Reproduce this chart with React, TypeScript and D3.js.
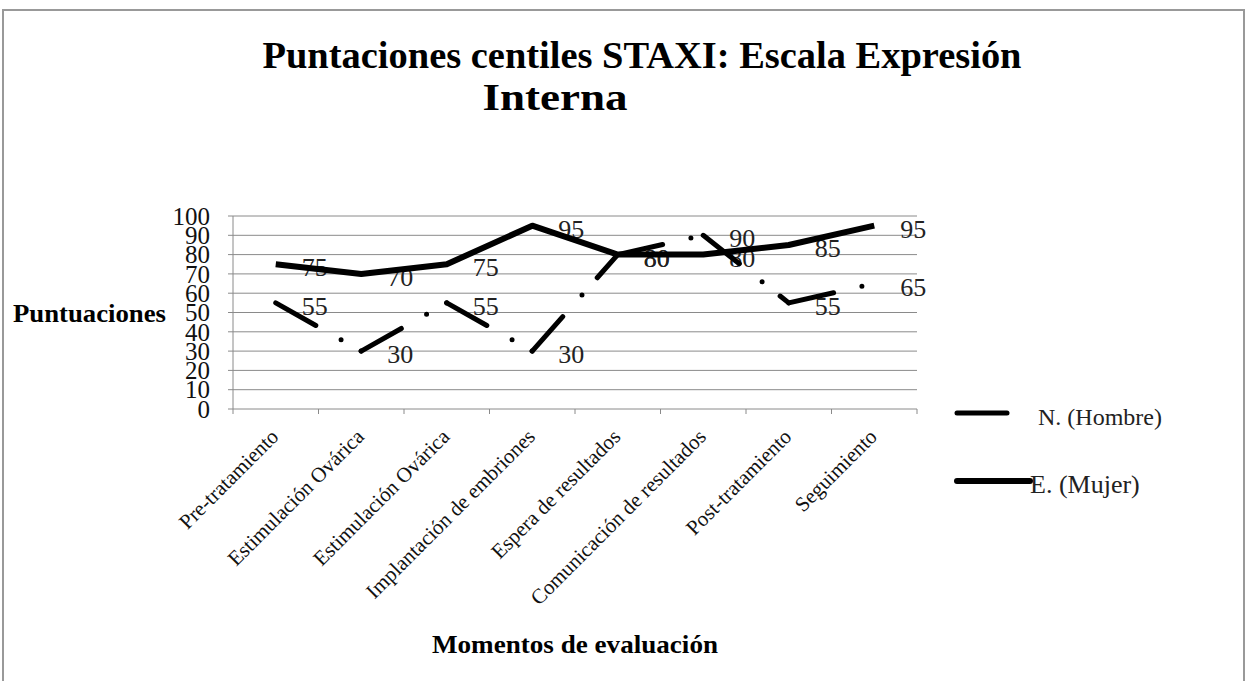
import React from "react";
import * as d3 from "d3";

const categories = [
  "Pre-tratamiento",
  "Estimulación Ovárica",
  "Estimulación Ovárica",
  "Implantación de embriones",
  "Espera de resultados",
  "Comunicación de resultados",
  "Post-tratamiento",
  "Seguimiento",
];
const hombre = [55, 30, 55, 30, 80, 90, 55, 65];
const mujer = [75, 70, 75, 95, 80, 80, 85, 95];
const yTicks = [0, 10, 20, 30, 40, 50, 60, 70, 80, 90, 100];
const titleLine1 = "Puntaciones centiles STAXI: Escala Expresión";
const titleLine2 = "Interna";
const yTitle = "Puntuaciones";
const xTitle = "Momentos de evaluación";
const legendHombre = "N. (Hombre)";
const legendMujer = "E. (Mujer)";

const FONT = "'Liberation Serif', 'Times New Roman', serif";
const GRID = "#8a8a8a";

export default function App() {
  const x = d3
    .scaleBand<number>()
    .domain(categories.map((_, i) => i))
    .range([233, 917]);
  const y = d3.scaleLinear().domain([0, 100]).range([409, 216]);
  const bw = x.bandwidth();
  const cx = (i: number) => (x(i) as number) + bw / 2;

  const line = d3
    .line<number>()
    .x((_, i) => cx(i))
    .y((d) => y(d));

  const boundaries = categories.map((_, i) => x(i) as number).concat([917]);

  const segs = hombre.slice(0, -1).map((v, i) => [
    [cx(i), y(v)],
    [cx(i + 1), y(hombre[i + 1])],
  ]);

  return (
    <svg
      width={1250}
      height={681}
      style={{ position: "absolute", left: 0, top: 0, background: "#fff", fontFamily: FONT }}
    >
      <rect x={3} y={10} width={1241} height={700} fill="#fff" stroke="#999" strokeWidth={2} />

      <text x={642} y={68} textAnchor="middle" fontSize={38} fontWeight="bold" textLength={759} lengthAdjust="spacingAndGlyphs">
        {titleLine1}
      </text>
      <text x={555} y={110} textAnchor="middle" fontSize={38} fontWeight="bold" textLength={145} lengthAdjust="spacingAndGlyphs">
        {titleLine2}
      </text>

      {/* gridlines */}
      {yTicks.filter((t) => t > 0).map((t) => (
        <line key={t} x1={233} x2={917} y1={y(t)} y2={y(t)} stroke={GRID} strokeWidth={1} />
      ))}
      {/* y axis */}
      <line x1={233} x2={233} y1={y(100)} y2={y(0)} stroke={GRID} strokeWidth={1} />
      {yTicks.map((t) => (
        <g key={t}>
          <line x1={228} x2={233} y1={y(t)} y2={y(t)} stroke={GRID} />
          <text x={210} y={y(t)} dy="0.35em" textAnchor="end" fontSize={25} fill="#111">
            {t}
          </text>
        </g>
      ))}
      {/* x axis */}
      <line x1={233} x2={917} y1={y(0)} y2={y(0)} stroke={GRID} strokeWidth={1} />
      {boundaries.map((b, i) => (
        <line key={i} x1={b} x2={b} y1={y(0)} y2={y(0) + 5} stroke={GRID} />
      ))}
      {categories.map((c, i) => (
        <text
          key={i}
          transform={`translate(${cx(i) + 4},${438}) rotate(-45)`}
          textAnchor="end"
          fontSize={21}
          fill="#111"
        >
          {c}
        </text>
      ))}

      <text x={13} y={322} fontSize={26} fontWeight="bold" textLength={153} lengthAdjust="spacingAndGlyphs">
        {yTitle}
      </text>
      <text x={575} y={653} textAnchor="middle" fontSize={26} fontWeight="bold" textLength={286} lengthAdjust="spacingAndGlyphs">
        {xTitle}
      </text>

      {/* data labels */}
      {mujer.map((v, i) => (
        <text key={"m" + i} x={cx(i) + 26} y={y(v) + 3} dy="0.35em" fontSize={26} fill="#222">
          {v}
        </text>
      ))}
      {hombre.map((v, i) => (
        <text key={"h" + i} x={cx(i) + 26} y={y(v) + 3} dy="0.35em" fontSize={26} fill="#222">
          {v}
        </text>
      ))}

      {/* series E. (Mujer) */}
      <path d={line(mujer) || ""} fill="none" stroke="#000" strokeWidth={6} strokeLinejoin="round" />
      {/* series N. (Hombre) long dash dot, pattern restarts per segment */}
      {segs.map((s, i) => (
        <path
          key={i}
          d={d3.line()(s as [number, number][]) || ""}
          fill="none"
          stroke="#000"
          strokeWidth={5}
          strokeLinecap="round"
          strokeDasharray="46 29 0 23"
        />
      ))}

      {/* legend */}
      <line x1={957} x2={1007} y1={413} y2={413} stroke="#000" strokeWidth={5} strokeLinecap="round" />
      <text x={1038} y={425} fontSize={24} fill="#222">
        {legendHombre}
      </text>
      <line x1={957} x2={1030} y1={481} y2={481} stroke="#000" strokeWidth={6} strokeLinecap="round" />
      <text x={1030} y={493} fontSize={26} fill="#222">
        {legendMujer}
      </text>
    </svg>
  );
}
